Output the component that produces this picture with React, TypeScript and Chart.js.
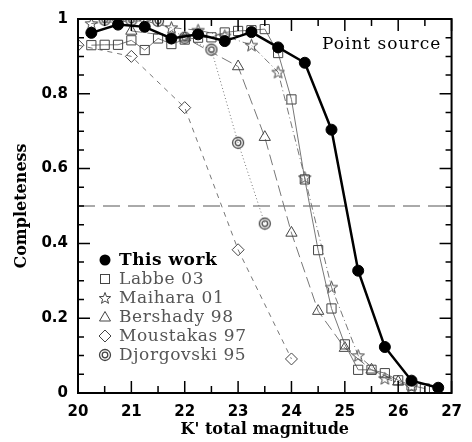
import { useEffect, useRef } from 'react';
import { Chart, registerables } from 'chart.js';

Chart.register(...registerables);

// ---- Data ----
const thisWorkX = [20.25, 20.75, 21.25, 21.75, 22.25, 22.75, 23.25, 23.75, 24.25, 24.75, 25.25, 25.75, 26.25, 26.75];
const thisWorkY = [0.963, 0.985, 0.979, 0.948, 0.959, 0.941, 0.965, 0.924, 0.883, 0.704, 0.327, 0.123, 0.033, 0.014];

const labbeX = [20.25, 20.5, 20.75, 21.0, 21.25, 21.5, 21.75, 22.0, 22.25, 22.5, 22.75, 23.0, 23.25, 23.5, 23.75, 24.0, 24.25, 24.5, 24.75, 25.0, 25.25, 25.5, 25.75, 26.0, 26.25, 26.5];
const labbeY = [0.930, 0.931, 0.931, 0.943, 0.917, 0.948, 0.933, 0.945, 0.95, 0.951, 0.964, 0.968, 0.97, 0.973, 0.909, 0.785, 0.571, 0.382, 0.226, 0.130, 0.062, 0.062, 0.053, 0.034, 0.02, 0.012];

const maiharaX = [20.25, 20.75, 21.25, 21.75, 22.25, 22.75, 23.25, 23.75, 24.25, 24.75, 25.25, 25.75, 26.25];
const maiharaY = [0.988, 0.993, 0.995, 0.977, 0.97, 0.955, 0.93, 0.858, 0.576, 0.283, 0.1, 0.039, 0.018];

const bershadyX = [21.0, 22.0, 23.0, 23.5, 24.0, 24.5, 25.0, 25.5, 26.0];
const bershadyY = [0.968, 0.95, 0.873, 0.684, 0.428, 0.219, 0.12, 0.062, 0.03];

const moustakasX = [20.0, 21.0, 22.0, 23.0, 24.0];
const moustakasY = [0.93, 0.90, 0.763, 0.383, 0.091];

const djorgX = [20.5, 21.0, 21.5, 22.0, 22.5, 23.0, 23.5];
const djorgY = [0.998, 0.997, 0.995, 0.95, 0.918, 0.669, 0.453];

const refLineX = [20, 27];
const refLineY = [0.5, 0.5];

const xMajorTicks = [20, 21, 22, 23, 24, 25, 26, 27];
const yMajorTicks = [0, 0.2, 0.4, 0.6, 0.8, 1];

const legendLabels = ['This work', 'Labbe 03', 'Maihara 01', 'Bershady 98', 'Moustakas 97', 'Djorgovski 95'];
const legendMarkers = ['dot', 'square', 'star', 'triangle', 'diamond', 'dcircle'];
const annotationText = 'Point source';

const MARK = '#444';
const LINE = '#777';

const pts = (xs: number[], ys: number[]) => xs.map((x, i) => ({ x, y: ys[i] }));

function starPath(ctx: CanvasRenderingContext2D, cx: number, cy: number, R: number, r: number) {
  ctx.beginPath();
  for (let i = 0; i < 10; i++) {
    const ang = -Math.PI / 2 + (i * Math.PI) / 5;
    const rad = i % 2 === 0 ? R : r;
    const px = cx + Math.cos(ang) * rad;
    const py = cy + Math.sin(ang) * rad;
    if (i === 0) ctx.moveTo(px, py);
    else ctx.lineTo(px, py);
  }
  ctx.closePath();
}

function makeStar(): HTMLCanvasElement {
  const c = document.createElement('canvas');
  c.width = 15; c.height = 15;
  const ctx = c.getContext('2d')!;
  ctx.strokeStyle = MARK; ctx.lineWidth = 1;
  starPath(ctx, 7.5, 8, 6.5, 2.7);
  ctx.stroke();
  return c;
}

function makeDoubleCircle(): HTMLCanvasElement {
  const c = document.createElement('canvas');
  c.width = 14; c.height = 14;
  const ctx = c.getContext('2d')!;
  ctx.strokeStyle = MARK; ctx.lineWidth = 1.3;
  ctx.beginPath(); ctx.arc(7, 7, 5.5, 0, Math.PI * 2); ctx.stroke();
  ctx.beginPath(); ctx.arc(7, 7, 2.8, 0, Math.PI * 2); ctx.stroke();
  return c;
}

function drawMarker(ctx: CanvasRenderingContext2D, type: string, x: number, y: number) {
  ctx.save();
  ctx.strokeStyle = MARK;
  ctx.lineWidth = 1;
  if (type === 'dot') {
    ctx.fillStyle = '#000';
    ctx.beginPath(); ctx.arc(x, y, 5.5, 0, Math.PI * 2); ctx.fill();
  } else if (type === 'square') {
    ctx.strokeRect(x - 4.5, y - 4.5, 9, 9);
  } else if (type === 'star') {
    starPath(ctx, x, y + 0.5, 6, 2.5); ctx.stroke();
  } else if (type === 'triangle') {
    ctx.beginPath(); ctx.moveTo(x, y - 5.5); ctx.lineTo(x + 5.5, y + 4); ctx.lineTo(x - 5.5, y + 4); ctx.closePath(); ctx.stroke();
  } else if (type === 'diamond') {
    ctx.beginPath(); ctx.moveTo(x, y - 6); ctx.lineTo(x + 6, y); ctx.lineTo(x, y + 6); ctx.lineTo(x - 6, y); ctx.closePath(); ctx.stroke();
  } else if (type === 'dcircle') {
    ctx.lineWidth = 1.3;
    ctx.beginPath(); ctx.arc(x, y, 5.5, 0, Math.PI * 2); ctx.stroke();
    ctx.beginPath(); ctx.arc(x, y, 2.8, 0, Math.PI * 2); ctx.stroke();
  }
  ctx.restore();
}

const decorPlugin = {
  id: 'decor',
  afterDatasetsDraw(chart: any) {
    const { ctx, chartArea: a, scales } = chart;
    const xs = scales.x, ys = scales.y;
    ctx.save();
    // frame
    ctx.strokeStyle = '#000';
    ctx.lineWidth = 2;
    ctx.strokeRect(a.left, a.top, a.right - a.left, a.bottom - a.top);
    // ticks
    ctx.lineWidth = 1.5;
    ctx.beginPath();
    for (let i = 0; i < xMajorTicks.length; i++) {
      const v = xMajorTicks[i];
      const px = xs.getPixelForValue(v);
      ctx.moveTo(px, a.bottom); ctx.lineTo(px, a.bottom - 12);
      ctx.moveTo(px, a.top); ctx.lineTo(px, a.top + 12);
      if (i < xMajorTicks.length - 1) {
        const pm = xs.getPixelForValue(v + 0.5);
        ctx.moveTo(pm, a.bottom); ctx.lineTo(pm, a.bottom - 7);
        ctx.moveTo(pm, a.top); ctx.lineTo(pm, a.top + 7);
      }
    }
    for (let i = 0; i < yMajorTicks.length; i++) {
      const v = yMajorTicks[i];
      const py = ys.getPixelForValue(v);
      ctx.moveTo(a.left, py); ctx.lineTo(a.left + 12, py);
      ctx.moveTo(a.right, py); ctx.lineTo(a.right - 12, py);
      if (i < yMajorTicks.length - 1) {
        for (let k = 1; k < 4; k++) {
          const pm = ys.getPixelForValue(v + k * 0.05);
          ctx.moveTo(a.left, pm); ctx.lineTo(a.left + 6, pm);
          ctx.moveTo(a.right, pm); ctx.lineTo(a.right - 6, pm);
        }
      }
    }
    ctx.stroke();

    // annotation
    ctx.fillStyle = '#000';
    ctx.font = '17px "DejaVu Serif"';
    (ctx as any).letterSpacing = '1px';
    ctx.textBaseline = 'middle';
    ctx.textAlign = 'left';
    ctx.fillText(annotationText, 322, 45);

    // legend
    const lx = 105, tx = 119, y0 = 260, dy = 19;
    for (let i = 0; i < legendLabels.length; i++) {
      const yy = y0 + i * dy;
      drawMarker(ctx, legendMarkers[i], lx, yy);
      if (i === 0) {
        ctx.font = 'bold 17px "DejaVu Serif"';
        ctx.fillStyle = '#000';
        (ctx as any).letterSpacing = '0.5px';
      } else {
        ctx.font = '17px "DejaVu Serif"';
        ctx.fillStyle = '#555';
        (ctx as any).letterSpacing = '0.6px';
      }
      ctx.fillText(legendLabels[i], tx, yy + 1);
    }
    ctx.restore();
  },
};

export default function App() {
  const ref = useRef<HTMLCanvasElement | null>(null);

  useEffect(() => {
    document.body.style.margin = '0';
    if (!ref.current) return;
    const star = makeStar();
    const dcircle = makeDoubleCircle();

    const common = {
      showLine: true,
      borderColor: LINE,
      borderWidth: 1,
      pointBorderColor: MARK,
      pointBackgroundColor: 'rgba(0,0,0,0)',
      pointBorderWidth: 1,
    };

    const chart = new Chart(ref.current, {
      type: 'scatter',
      data: {
        datasets: [
          {
            ...common,
            label: legendLabels[0],
            data: pts(thisWorkX, thisWorkY),
            borderColor: '#000',
            borderWidth: 2.5,
            pointStyle: 'circle',
            pointRadius: 5.5,
            pointBackgroundColor: '#000',
            pointBorderColor: '#000',
          },
          {
            ...common,
            label: legendLabels[1],
            data: pts(labbeX, labbeY),
            pointStyle: 'rect',
            pointRadius: 6.5,
          },
          {
            ...common,
            label: legendLabels[2],
            data: pts(maiharaX, maiharaY),
            pointStyle: star,
            pointRadius: 6,
            borderDash: [7, 3, 1, 3],
          },
          {
            ...common,
            label: legendLabels[3],
            data: pts(bershadyX, bershadyY),
            pointStyle: 'triangle',
            pointRadius: 6.5,
            borderDash: [11, 5],
          },
          {
            ...common,
            label: legendLabels[4],
            data: pts(moustakasX, moustakasY),
            pointStyle: 'rectRot',
            pointRadius: 6,
            borderDash: [5, 5],
          },
          {
            ...common,
            label: legendLabels[5],
            data: pts(djorgX, djorgY),
            pointStyle: dcircle,
            pointRadius: 6,
            borderDash: [1, 2.5],
          },
          {
            label: 'ref',
            data: pts(refLineX, refLineY),
            showLine: true,
            borderColor: '#555',
            borderWidth: 1,
            borderDash: [17, 8],
            pointRadius: 0,
          },
        ],
      },
      options: {
        animation: false,
        responsive: false,
        layout: { padding: { top: 13, right: 13, left: 0, bottom: 0 } },
        plugins: { legend: { display: false }, tooltip: { enabled: false } },
        scales: {
          x: {
            type: 'linear',
            min: 20,
            max: 27,
            grid: { display: false, drawTicks: false },
            border: { display: false },
            ticks: {
              stepSize: 1,
              padding: 10,
              color: '#000',
              autoSkip: false,
              maxRotation: 0,
              font: { family: 'DejaVu Sans', weight: 'bold', size: 15 },
            },
            title: {
              display: true,
              text: "K' total magnitude",
              color: '#000',
              font: { family: 'DejaVu Serif', weight: 'bold', size: 16 },
              padding: { top: 0, bottom: 3 },
            },
            afterFit: (s: any) => { s.height = 49; },
          },
          y: {
            type: 'linear',
            min: 0,
            max: 1,
            grid: { display: false, drawTicks: false },
            border: { display: false },
            ticks: {
              stepSize: 0.2,
              padding: 10,
              color: '#000',
              autoSkip: false,
              font: { family: 'DejaVu Sans', weight: 'bold', size: 15 },
              callback: (v: any) => {
                const n = Number(v);
                if (Math.abs(n) < 1e-9) return '0';
                if (Math.abs(n - 1) < 1e-9) return '1';
                return n.toFixed(1);
              },
            },
            title: {
              display: true,
              text: 'Completeness',
              color: '#000',
              font: { family: 'DejaVu Serif', weight: 'bold', size: 16 },
              padding: { top: 12, bottom: 0 },
            },
            afterFit: (s: any) => { s.width = 78; },
          },
        },
      },
      plugins: [decorPlugin],
    } as any);

    return () => chart.destroy();
  }, []);

  return (
    <div style={{ width: 472, height: 442 }}>
      <canvas ref={ref} width={472} height={442} style={{ width: 472, height: 442, display: 'block' }} />
    </div>
  );
}
